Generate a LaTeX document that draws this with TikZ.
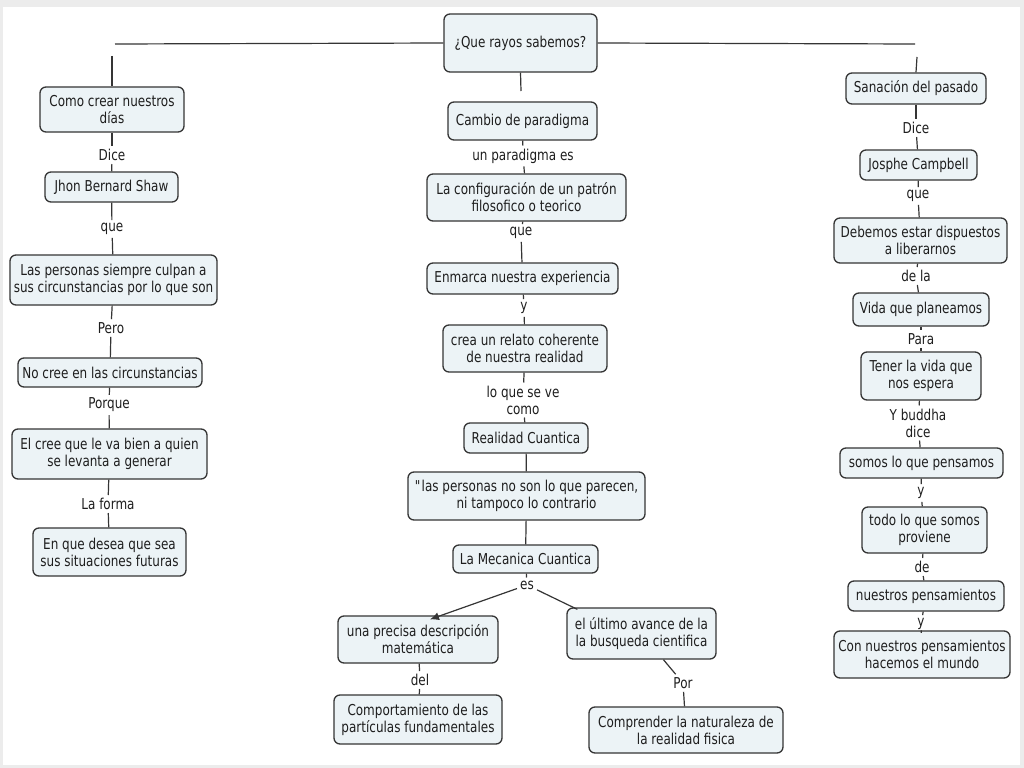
\documentclass[tikz,border=0pt]{standalone}
\usepackage{fontspec}
\setmainfont{DejaVu Sans}[FakeStretch=0.8]
\usetikzlibrary{arrows.meta}
\definecolor{boxfill}{HTML}{ECF3F6}
\definecolor{boxline}{HTML}{353535}
\definecolor{txt}{HTML}{1E1E1E}
\begin{document}
\begin{tikzpicture}[x=1bp,y=-1bp,
  box/.style={draw=boxline, fill=boxfill, line width=1.3bp, rounded corners=6bp, align=center, inner sep=1bp, text=txt, font=\fontsize{15bp}{17bp}\selectfont},
  lab/.style={inner sep=3bp, align=center, text=txt, font=\fontsize{15bp}{17bp}\selectfont},
  conn/.style={draw=boxline, line width=1.2bp}]
\useasboundingbox (0,0) rectangle (1024,768);
\fill[gray!15] (0,0) rectangle (1024,768);
\fill[white] (3,7) rectangle (1020,765);

% top
\node[box, minimum width=153bp, minimum height=58bp] (top) at (520.5,43) {¿Que rayos sabemos?};
\coordinate (jl) at (115,44);
\coordinate (jl2) at (112,56);
\coordinate (jr) at (915,44);
\coordinate (jr2) at (917,57);
\coordinate (jm) at (521,91);

% left column
\node[box, minimum width=144bp, minimum height=45bp] (como) at (112,109.5) {Como crear nuestros\\días};
\node[lab] (l1) at (112,155) {Dice};
\node[box, minimum width=133bp, minimum height=30bp] (jhon) at (111.5,187) {Jhon Bernard Shaw};
\node[lab] (l2) at (112,229) {que};
\node[box, minimum width=207bp, minimum height=50bp] (las) at (113.5,280) {Las personas siempre culpan a\\sus circunstancias por lo que son};
\node[lab] (l3) at (111,328) {Pero};
\node[box, minimum width=184bp, minimum height=29bp] (nocree) at (110,372.5) {No cree en las circunstancias};
\node[lab] (l4) at (109,405) {Porque};
\node[box, minimum width=195bp, minimum height=50bp] (elcree) at (109.5,454) {El cree que le va bien a quien\\se levanta a generar};
\node[lab] (l5) at (108,504) {La forma};
\node[box, minimum width=153bp, minimum height=48bp] (enque) at (109.5,552) {En que desea que sea\\sus situaciones futuras};

% middle column
\node[box, minimum width=149bp, minimum height=38bp] (cambio) at (522.5,121) {Cambio de paradigma};
\node[lab] (m1) at (523,156) {un paradigma es};
\node[box, minimum width=199bp, minimum height=47bp] (conf) at (526.5,197.5) {La configuración de un patrón\\filosofico o teorico};
\node[lab] (m2) at (521,233) {que};
\node[box, minimum width=191bp, minimum height=31bp] (enm) at (522.5,278.5) {Enmarca nuestra experiencia};
\node[lab] (m3) at (524,308) {y};
\node[box, minimum width=164bp, minimum height=47bp] (crea) at (525,348.5) {crea un relato coherente\\de nuestra realidad};
\node[lab] (m4) at (523,400) {lo que se ve\\como};
\node[box, minimum width=124bp, minimum height=30bp] (real) at (526,438) {Realidad Cuantica};
\node[box, minimum width=237bp, minimum height=48bp] (pers) at (526.5,496) {\textquotedbl las personas no son lo que parecen,\\ni tampoco lo contrario};
\node[box, minimum width=145bp, minimum height=28bp] (mec) at (525.5,559) {La Mecanica Cuantica};
\node[lab] (m5) at (527,585) {es};
\node[box, minimum width=160bp, minimum height=47bp] (una) at (418,639.5) {una precisa descripción\\matemática};
\node[lab] (m6) at (420,680) {del};
\node[box, minimum width=168bp, minimum height=49bp] (comp) at (418,719.5) {Comportamiento de las\\partículas fundamentales};
\node[box, minimum width=149bp, minimum height=51bp] (ult) at (641.5,633.5) {el último avance de la\\la busqueda cientifica};
\node[lab] (m7) at (683,683) {Por};
\node[box, minimum width=194bp, minimum height=46bp] (compr) at (686,730) {Comprender la naturaleza de\\la realidad fisica};

% right column
\node[box, minimum width=140bp, minimum height=31bp] (san) at (916,88.5) {Sanación del pasado};
\node[lab] (r1) at (916,128) {Dice};
\node[box, minimum width=117bp, minimum height=30bp] (jos) at (918.5,165) {Josphe Campbell};
\node[lab] (r2) at (918,196) {que};
\node[box, minimum width=173bp, minimum height=45bp] (deb) at (920.5,240.5) {Debemos estar dispuestos\\a liberarnos};
\node[lab] (r3) at (916,276) {de la};
\node[box, minimum width=136bp, minimum height=33bp] (vida) at (921,309.5) {Vida que planeamos};
\node[lab] (r4) at (921,339) {Para};
\node[box, minimum width=120bp, minimum height=48bp] (tener) at (921,376) {Tener la vida que\\nos espera};
\node[lab] (r5) at (918,423) {Y buddha\\dice};
\node[box, minimum width=163bp, minimum height=30bp] (somos) at (921.5,463) {somos lo que pensamos};
\node[lab] (r6) at (921,493) {y};
\node[box, minimum width=125bp, minimum height=46bp] (todo) at (924.5,530) {todo lo que somos\\proviene};
\node[lab] (r7) at (922,567) {de};
\node[box, minimum width=156bp, minimum height=30bp] (nues) at (926,596) {nuestros pensamientos};
\node[lab] (r8) at (921,624) {y};
\node[box, minimum width=176bp, minimum height=47bp] (con) at (922,654.5) {Con nuestros pensamientos\\hacemos el mundo};

% connectors top
\draw[conn] (top.west) -- (jl);
\draw[conn] (jl2) -- (como.north);
\draw[conn] (top.east) -- (jr);
\draw[conn] (jr2) -- (san.north);
\draw[conn] (top.south) -- (jm);

% left
\draw[conn] (como) -- (l1); \draw[conn] (l1) -- (jhon);
\draw[conn] (jhon) -- (l2); \draw[conn] (l2) -- (las);
\draw[conn] (las) -- (l3); \draw[conn] (l3) -- (nocree);
\draw[conn] (nocree) -- (l4); \draw[conn] (l4) -- (elcree);
\draw[conn] (elcree) -- (l5); \draw[conn] (l5) -- (enque);

% middle
\draw[conn] (cambio) -- (m1); \draw[conn] (m1) -- (conf);
\draw[conn] (conf) -- (m2); \draw[conn] (m2) -- (enm);
\draw[conn] (enm) -- (m3); \draw[conn] (m3) -- (crea);
\draw[conn] (crea) -- (m4); \draw[conn] (m4) -- (real);
\draw[conn] (real) -- (pers);
\draw[conn] (pers) -- (mec);
\draw[conn] (mec) -- (m5);
\draw[conn, -{Latex[length=9bp,width=8bp]}] (m5) -- ([xshift=12bp,yshift=-4bp]una.north);
\draw[conn] (m5) -- ([xshift=11bp,yshift=-2bp]ult.north west);
\draw[conn] (una) -- (m6); \draw[conn] (m6) -- (comp);
\draw[conn] (ult) -- (m7); \draw[conn] (m7) -- (compr);

% right
\draw[conn] (san) -- (r1); \draw[conn] (r1) -- (jos);
\draw[conn] (jos) -- (r2); \draw[conn] (r2) -- (deb);
\draw[conn] (deb) -- (r3); \draw[conn] (r3) -- (vida);
\draw[conn] (vida) -- (r4); \draw[conn] (r4) -- (tener);
\draw[conn] (tener) -- (r5); \draw[conn] (r5) -- (somos);
\draw[conn] (somos) -- (r6); \draw[conn] (r6) -- (todo);
\draw[conn] (todo) -- (r7); \draw[conn] (r7) -- (nues);
\draw[conn] (nues) -- (r8); \draw[conn] (r8) -- (con);
\end{tikzpicture}
\end{document}
